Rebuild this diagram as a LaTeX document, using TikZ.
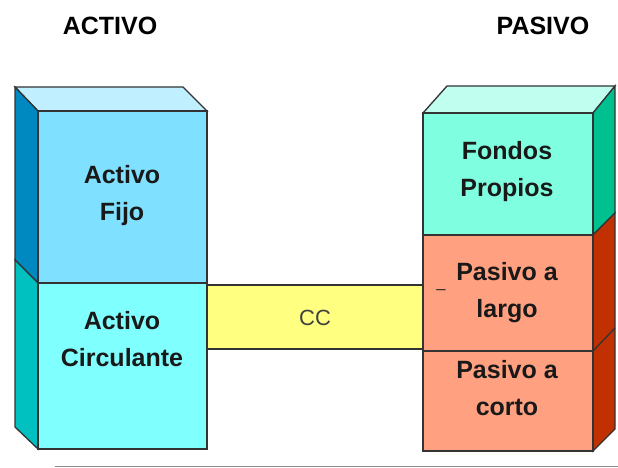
\documentclass[tikz,border=0pt]{standalone}
\usepackage{fontspec}
\setmainfont{Liberation Sans}
\begin{document}
\begin{tikzpicture}[x=1pt,y=-1pt,
  face/.style={draw=black!80,line width=1.3pt,line join=miter},
  lbl/.style={font=\bfseries\fontsize{25}{37}\selectfont,align=center,text=black!90,inner sep=0pt},
  head/.style={font=\bfseries\fontsize{25}{28}\selectfont,inner sep=0pt}]
\definecolor{lTop}{HTML}{C0F0FF}
\definecolor{lFrontA}{HTML}{80E0FF}
\definecolor{lSideA}{HTML}{0088C0}
\definecolor{lFrontB}{HTML}{80FFFF}
\definecolor{lSideB}{HTML}{00C0C0}
\definecolor{cc}{HTML}{FFFF80}
\definecolor{rTop}{HTML}{C0FFF0}
\definecolor{rFrontA}{HTML}{80FFE0}
\definecolor{rSideA}{HTML}{00C090}
\definecolor{rFrontB}{HTML}{FFA080}
\definecolor{rSideB}{HTML}{C03000}
\useasboundingbox (0,0) rectangle (618,468);
% headers
\node[head] (hact) at (110,26) {ACTIVO};
\node[head] (hpas) at (543,26) {PASIVO};
% CC band
\filldraw[face,fill=cc] (207,285) rectangle (423,349);
\node[font=\fontsize{22}{26}\selectfont,text=black!75,inner sep=0pt] (cc) at (315,318) {CC};
% left block
\filldraw[face,fill=lTop] (15,87) -- (183,87) -- (207,111) -- (38,111) -- cycle;
\filldraw[face,fill=lSideA] (15,87) -- (38,111) -- (38,283) -- (15,260) -- cycle;
\filldraw[face,fill=lSideB] (15,260) -- (38,283) -- (38,449) -- (15,427) -- cycle;
\filldraw[face,fill=lFrontA] (38,111) rectangle (207,283);
\filldraw[face,fill=lFrontB] (38,283) rectangle (207,449);
\node[lbl] (fijo) at (122,196) {Activo\\Fijo};
\node[lbl] (circ) at (122,339) {Activo\\Circulante};
% right block
\filldraw[face,fill=rTop] (447,86) -- (615,86) -- (593,113) -- (423,113) -- cycle;
\filldraw[face,fill=rSideA] (593,113) -- (615,86) -- (615,213) -- (593,235) -- cycle;
\filldraw[face,fill=rSideB] (593,235) -- (615,213) -- (615,429) -- (593,451) -- cycle;
\draw[face] (593,351) -- (615,328);
\filldraw[face,fill=rFrontA] (423,113) rectangle (593,235);
\filldraw[face,fill=rFrontB] (423,235) rectangle (593,451);
\draw[face] (423,351) -- (593,351);
\node[lbl] (fondos) at (507,172) {Fondos\\Propios};
\node[lbl] (largo) at (507,293) {Pasivo a\\largo};
\node[lbl] (corto) at (507,388) {Pasivo a\\corto};
\node[lbl,font=\fontsize{16}{18}\selectfont] (dash) at (441,289) {\_};
% bottom rule
\coordinate (rl) at (55,466);
\coordinate (rr) at (618,466);
\draw[black!45,line width=1pt] (rl) -- (rr);
\end{tikzpicture}
\end{document}
